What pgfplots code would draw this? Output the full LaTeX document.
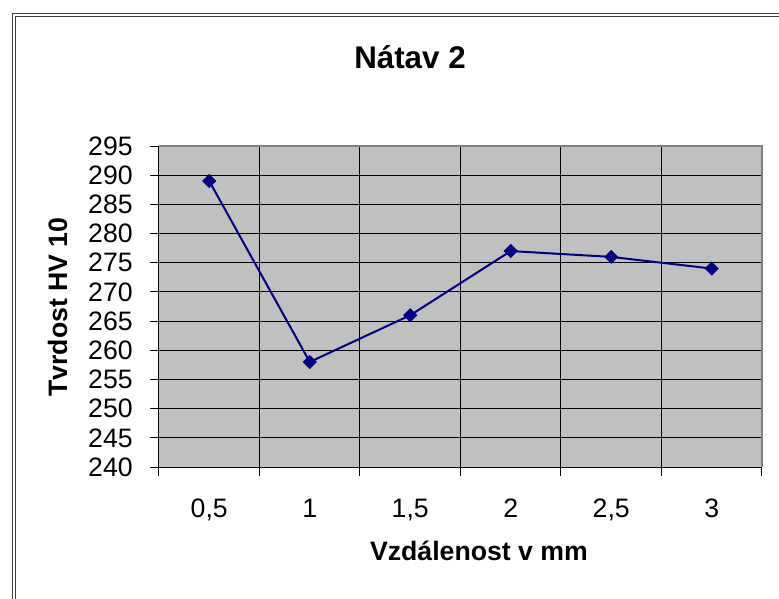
\documentclass[border=0pt]{standalone}
\usepackage{pgfplots}
\pgfplotsset{compat=1.18}
\usepackage{fontspec}
\setmainfont{Liberation Sans}
\definecolor{plotbg}{HTML}{C0C0C0}
\definecolor{navyline}{HTML}{000080}
\definecolor{bordergray}{HTML}{808080}
\begin{document}
\begin{tikzpicture}[x=0.75pt,y=-0.75pt]
\useasboundingbox (0,0) rectangle (779,599);
\clip (0,0) rectangle (779,599);
\fill[white] (0,0) rectangle (779,599);
\draw[black!75,line width=0.75pt] (12.5,13.5) rectangle (820,640);
\draw[black!75,line width=0.75pt] (15.5,16.5) rectangle (820,640);
\coordinate (P) at (159,467);
\begin{axis}[name=ax, at={(P)}, anchor=south west, scale only axis,
 width=452.25pt, height=240.75pt,
 xmin=-0.5, xmax=5.5, ymin=240, ymax=295,
 xtick={-0.5,0.5,1.5,2.5,3.5,4.5,5.5}, xticklabels={,,,,,,},
 ytick={240,245,...,295},
 extra x ticks={0,1,2,3,4,5},
 extra x tick labels={{0,5},1,{1,5},2,{2,5},3},
 extra x tick style={major tick length=0pt, grid=none,
   xticklabel style={anchor=base, yshift=-37.5pt}},
 xmajorgrids, ymajorgrids, grid style={black, line width=0.75pt},
 tick align=outside, tick pos=left, major tick length=6.5pt,
 tick style={black, line width=0.75pt},
 axis background/.style={fill=plotbg},
 axis line style={black, line width=0.75pt},
 ticklabel style={font=\fontsize{20}{24}\selectfont},
 /pgf/number format/assume math mode=true,
 yticklabel style={anchor=east, inner sep=0pt, xshift=-13pt},
 clip=false
]
\addplot[navyline, line width=1.5pt, mark=square*, mark size=3pt,
  mark options={rotate=45, solid, fill=navyline}]
  coordinates {(0,289)(1,258)(2,266)(3,277)(4,276)(5,274)};
\end{axis}
\draw[bordergray, line width=0.9pt] (ax.north west) -- (ax.north east) -- (ax.south east);
\node[font=\bfseries\fontsize{23.5}{28}\selectfont, anchor=base, inner sep=0pt] at (410,69) {Nátav 2};
\node[font=\bfseries\fontsize{20}{24}\selectfont, anchor=base, inner sep=0pt] at (479,560) {Vzdálenost v mm};
\node[font=\bfseries\fontsize{20}{24}\selectfont, anchor=base, inner sep=0pt, rotate=90] at (67,307) {Tvrdost HV 10};
\end{tikzpicture}
\end{document}
